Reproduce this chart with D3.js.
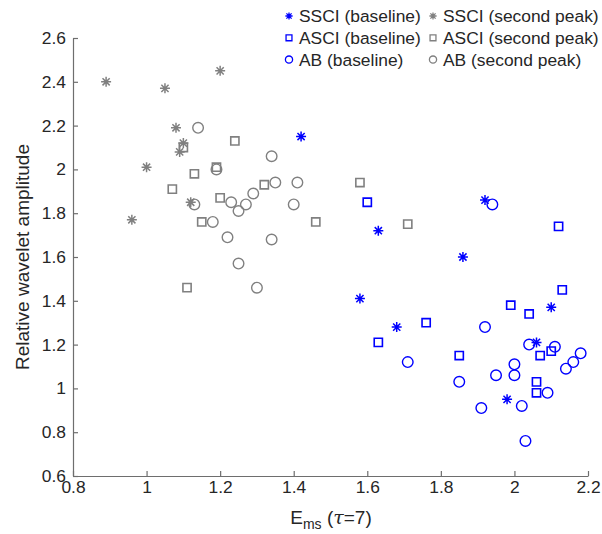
<!DOCTYPE html>
<html><head><meta charset="utf-8">
<script src="https://cdn.jsdelivr.net/npm/d3@7"></script>
<style>
body{margin:0;background:#fff;}
text{font-family:"Liberation Sans",Arial,sans-serif;}
</style></head>
<body><svg id="c" width="602" height="534"></svg>
<script>
// ---- data ----
const xTicks = [0.8, 1, 1.2, 1.4, 1.6, 1.8, 2, 2.2];
const yTicks = [0.6, 0.8, 1, 1.2, 1.4, 1.6, 1.8, 2, 2.2, 2.4, 2.6];

const ssciBaseX = [1.42, 1.58, 1.63, 1.68, 1.86, 1.92, 1.98, 2.06, 2.10];
const ssciBaseY = [2.15, 1.41, 1.72, 1.28, 1.60, 1.86, 0.95, 1.21, 1.37];

const ssciPeakX = [0.89, 1.05, 1.20, 1.08, 1.10, 1.09, 1.00, 0.96, 1.12];
const ssciPeakY = [2.40, 2.37, 2.45, 2.19, 2.12, 2.08, 2.01, 1.77, 1.85];

const asciBaseX = [1.60, 2.12, 2.13, 1.99, 2.04, 1.76, 1.63, 1.85, 2.07, 2.10, 2.06, 2.06];
const asciBaseY = [1.85, 1.74, 1.45, 1.38, 1.34, 1.30, 1.21, 1.15, 1.15, 1.17, 1.03, 0.98];

const asciPeakX = [1.24, 1.10, 1.19, 1.13, 1.07, 1.20, 1.15, 1.11, 1.32, 1.46, 1.58, 1.71];
const asciPeakY = [2.13, 2.10, 2.01, 1.98, 1.91, 1.87, 1.76, 1.46, 1.93, 1.76, 1.94, 1.75];

const abBaseX = [1.94, 1.92, 1.71, 1.85, 1.91, 1.95, 2.00, 2.00, 2.04, 2.11, 2.02, 2.03, 2.09, 2.14, 2.16, 2.18];
const abBaseY = [1.84, 1.28, 1.12, 1.03, 0.91, 1.06, 1.11, 1.06, 1.20, 1.19, 0.92, 0.76, 0.98, 1.09, 1.12, 1.16];

const abPeakX = [1.14, 1.19, 1.29, 1.13, 1.23, 1.25, 1.27, 1.18, 1.22, 1.25, 1.30, 1.34, 1.35, 1.41, 1.40, 1.34];
const abPeakY = [2.19, 2.00, 1.89, 1.84, 1.85, 1.81, 1.84, 1.76, 1.69, 1.57, 1.46, 2.06, 1.94, 1.94, 1.84, 1.68];

const seriesNames = ["SSCI (baseline)", "SSCI (second peak)", "ASCI (baseline)", "ASCI (second peak)", "AB (baseline)", "AB (second peak)"];

// ---- build ----
const BLUE = "#0000ff", GRAY = "#808080";
const series = [
  {name: seriesNames[0], xs: ssciBaseX, ys: ssciBaseY, m: "star", c: BLUE},
  {name: seriesNames[1], xs: ssciPeakX, ys: ssciPeakY, m: "star", c: GRAY},
  {name: seriesNames[2], xs: asciBaseX, ys: asciBaseY, m: "square", c: BLUE},
  {name: seriesNames[3], xs: asciPeakX, ys: asciPeakY, m: "square", c: GRAY},
  {name: seriesNames[4], xs: abBaseX, ys: abBaseY, m: "circle", c: BLUE},
  {name: seriesNames[5], xs: abPeakX, ys: abPeakY, m: "circle", c: GRAY}
];

const svg = d3.select("#c");
const x = d3.scaleLinear().domain([0.8, 2.2]).range([73, 588]);
const y = d3.scaleLinear().domain([0.6, 2.6]).range([476, 38]);
const FS = 17.4;
const AX = "#6e6e6e", TX = "#262626";

const gx = svg.append("g").attr("transform", "translate(0,476)")
  .call(d3.axisBottom(x).tickValues(xTicks).tickFormat(d3.format("~g")).tickSize(-5).tickSizeOuter(0).tickPadding(5));
const gy = svg.append("g").attr("transform", "translate(73,0)")
  .call(d3.axisLeft(y).tickValues(yTicks).tickFormat(d3.format("~g")).tickSize(-5).tickSizeOuter(0).tickPadding(7));
[gx, gy].forEach(g => {
  g.selectAll("path,line").attr("stroke", AX).attr("stroke-width", 1.2);
  g.selectAll("text").attr("fill", TX).style("font-size", FS + "px").style("font-family", '"Liberation Sans",Arial,sans-serif');
});

function markerPath(type, s) {
  if (type === "star") {
    const r = s, d = s * 0.72;
    return `M${-r},0L${r},0M0,${-r}L0,${r}M${-d},${-d}L${d},${d}M${-d},${d}L${d},${-d}`;
  }
  if (type === "square") {
    const h = s * 0.82;
    return `M${-h},${-h}L${h},${-h}L${h},${h}L${-h},${h}Z`;
  }
  return d3.arc()({innerRadius: 0, outerRadius: 0, startAngle: 0, endAngle: 0}) || "";
}

function drawMarker(g, type, color, cx, cy) {
  if (type === "circle") {
    g.append("circle").attr("cx", cx).attr("cy", cy).attr("r", 5.3)
      .attr("fill", "none").attr("stroke", color).attr("stroke-width", 1.4);
  } else {
    g.append("path").attr("transform", `translate(${cx},${cy})`)
      .attr("d", markerPath(type, 5))
      .attr("fill", "none").attr("stroke", color).attr("stroke-width", type === "star" ? 1.5 : 1.6);
  }
}

const pts = svg.append("g");
series.forEach(s => {
  s.xs.forEach((xv, i) => drawMarker(pts, s.m, s.c, x(xv), y(s.ys[i])));
});

// legend (2 columns, row-wise)
const leg = svg.append("g");
series.forEach((s, i) => {
  const col = i % 2, row = Math.floor(i / 2);
  const mx = col === 0 ? 289 : 433;
  const ty = 16 + row * 21.8;
  if (s.m === "circle") {
    leg.append("circle").attr("cx", mx).attr("cy", ty).attr("r", 3.6)
      .attr("fill", "none").attr("stroke", s.c).attr("stroke-width", 1.3);
  } else {
    leg.append("path").attr("transform", `translate(${mx},${ty})`)
      .attr("d", markerPath(s.m, 3.6)).attr("fill", "none").attr("stroke", s.c).attr("stroke-width", 1.3);
  }
  leg.append("text").attr("x", mx + 10).attr("y", ty).attr("dy", "0.36em")
    .attr("fill", TX).style("font-size", FS + "px").text(s.name);
});

// axis labels
svg.append("text").attr("transform", "translate(22,257) rotate(-90)")
  .attr("text-anchor", "middle").attr("dy", "0.36em").attr("fill", TX)
  .style("font-size", "19px").text("Relative wavelet amplitude");

const xl = svg.append("text").attr("x", 331).attr("y", 524).attr("text-anchor", "middle")
  .attr("fill", TX).style("font-size", "19px");
xl.append("tspan").text("E");
xl.append("tspan").attr("dy", 5).style("font-size", "14px").text("ms");
xl.append("tspan").attr("dy", -5).text(" (");
xl.append("tspan").style("font-style", "italic").style("font-family", '"DejaVu Serif","Liberation Serif",serif').text("τ");
xl.append("tspan").text("=7)");
</script></body></html>
